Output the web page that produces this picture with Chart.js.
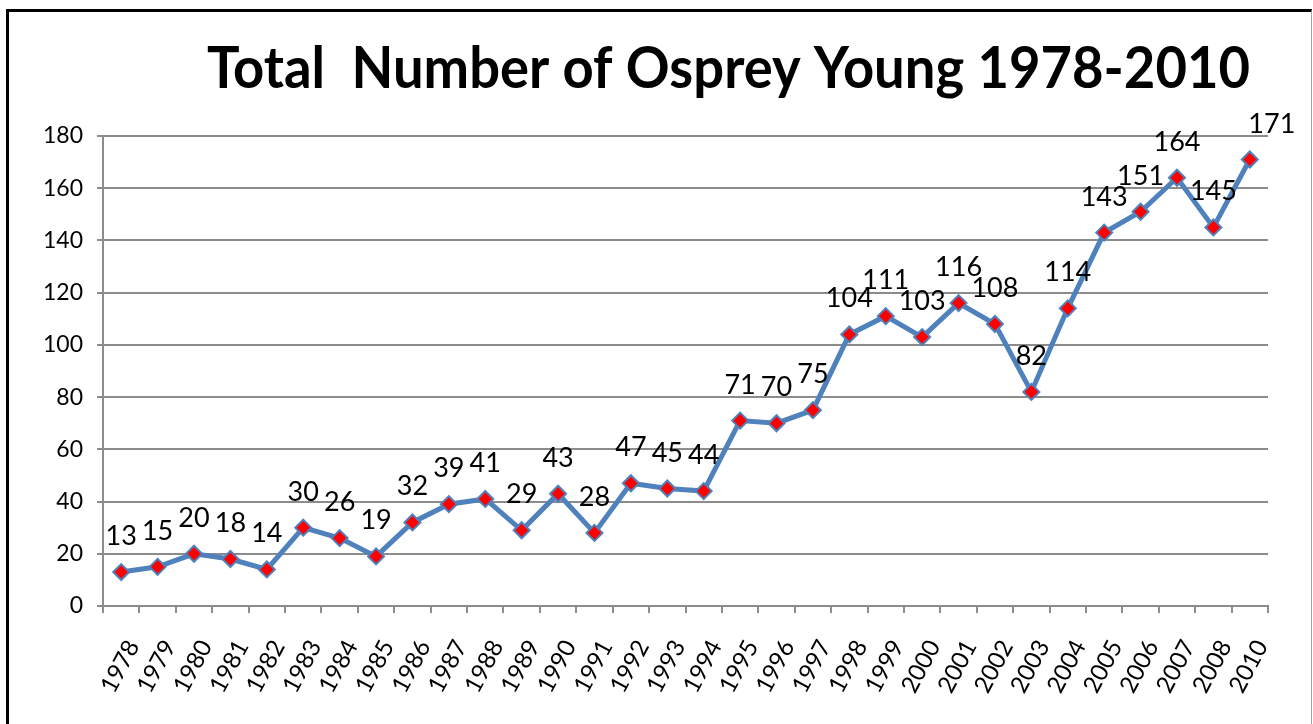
<!DOCTYPE html>
<html><head><meta charset="utf-8">
<script src="https://cdn.jsdelivr.net/npm/chart.js@4/dist/chart.umd.min.js"></script>
<style>
html,body{margin:0;padding:0;background:#fff;overflow:hidden}
#wrap{position:absolute;left:0;top:0;width:1313px;height:724px}
#frame{position:absolute;left:6px;top:9px;width:1302px;height:740px;border-left:3px solid #000;border-top:3px solid #000;border-right:1px solid #a6a6a6;pointer-events:none}
canvas{position:absolute;left:0;top:0}
</style></head>
<body>
<div id="wrap"><canvas id="c" width="1313" height="724"></canvas><div id="frame"></div></div>
<script>
const titleText = 'Total  Number of Osprey Young 1978-2010';
const years = ['1978','1979','1980','1981','1982','1983','1984','1985','1986','1987','1988','1989','1990','1991','1992','1993','1994','1995','1996','1997','1998','1999','2000','2001','2002','2003','2004','2005','2006','2007','2008','2010'];
const young = [13,15,20,18,14,30,26,19,32,39,41,29,43,28,47,45,44,71,70,75,104,111,103,116,108,82,114,143,151,164,145,171];
const yTicks = [0,20,40,60,80,100,120,140,160,180];

const FONT = 'Lato, "Open Sans", "DejaVu Sans", sans-serif';

const titlePlugin = {
  id: 'customTitle',
  afterDraw(chart) {
    const ctx = chart.ctx;
    const a = chart.chartArea;
    ctx.save();
    ctx.font = 'bold 58px ' + FONT;
    ctx.fillStyle = '#000';
    ctx.textAlign = 'center';
    ctx.textBaseline = 'alphabetic';
    const cx = (a.left + a.right) / 2 + 43;
    ctx.fillText(titleText, cx, 88, 1043);
    ctx.restore();
  }
};

const xLabelPlugin = {
  id: 'xLabels',
  afterDraw(chart) {
    const ctx = chart.ctx;
    const xs = chart.scales.x;
    ctx.save();
    ctx.font = '24px ' + FONT;
    ctx.fillStyle = '#000';
    ctx.textAlign = 'right';
    ctx.textBaseline = 'middle';
    years.forEach((lab, i) => {
      const px = xs.getPixelForTick(i);
      ctx.save();
      ctx.translate(px + 12, xs.top + 36);
      ctx.rotate(-62 * Math.PI / 180);
      ctx.fillText(lab, 0, 0);
      ctx.restore();
    });
    ctx.restore();
  }
};

const labelPlugin = {
  id: 'pointLabels',
  afterDatasetsDraw(chart) {
    const ctx = chart.ctx;
    const meta = chart.getDatasetMeta(0);
    ctx.save();
    ctx.font = '27px ' + FONT;
    ctx.fillStyle = '#000';
    ctx.textAlign = 'center';
    ctx.textBaseline = 'alphabetic';
    meta.data.forEach((pt, i) => {
      const dx = (i === meta.data.length - 1) ? 22 : 0;
      ctx.fillText(String(young[i]), pt.x + dx, pt.y - 27);
    });
    ctx.restore();
  }
};

new Chart(document.getElementById('c'), {
  type: 'line',
  data: {
    labels: years,
    datasets: [{
      data: young,
      borderColor: '#4F81BD',
      borderWidth: 5,
      tension: 0,
      pointStyle: 'rectRot',
      pointRadius: 8,
      pointBackgroundColor: '#FF0000',
      pointBorderColor: '#4F81BD',
      pointBorderWidth: 2,
      fill: false
    }]
  },
  options: {
    responsive: false,
    animation: false,
    devicePixelRatio: 1,
    layout: { padding: { left: 20, top: 136, right: 45, bottom: 10 } },
    plugins: { legend: { display: false }, title: { display: false }, tooltip: { enabled: false } },
    scales: {
      x: {
        offset: true,
        grid: { offset: true, drawOnChartArea: false, drawTicks: true, tickLength: 7, color: '#8c8c8c', lineWidth: 2 },
        border: { color: '#8c8c8c', width: 2 },
        ticks: { minRotation: 62, maxRotation: 62, autoSkip: false, color: 'rgba(0,0,0,0)', font: { family: FONT, size: 24 }, padding: 22 },
        afterFit(scale) { scale.height = 724 - 10 - 606; }
      },
      y: {
        min: 0, max: 180,
        afterBuildTicks(scale) { scale.ticks = yTicks.map(v => ({ value: v })); },
        grid: { color: '#8c8c8c', lineWidth: 2, drawTicks: true, tickLength: 6 },
        border: { color: '#8c8c8c', width: 2 },
        ticks: { color: '#000', font: { family: FONT, size: 23 }, padding: 14 },
        afterFit(scale) { scale.width = 83; }
      }
    }
  },
  plugins: [titlePlugin, xLabelPlugin, labelPlugin]
});
</script>
</body></html>
